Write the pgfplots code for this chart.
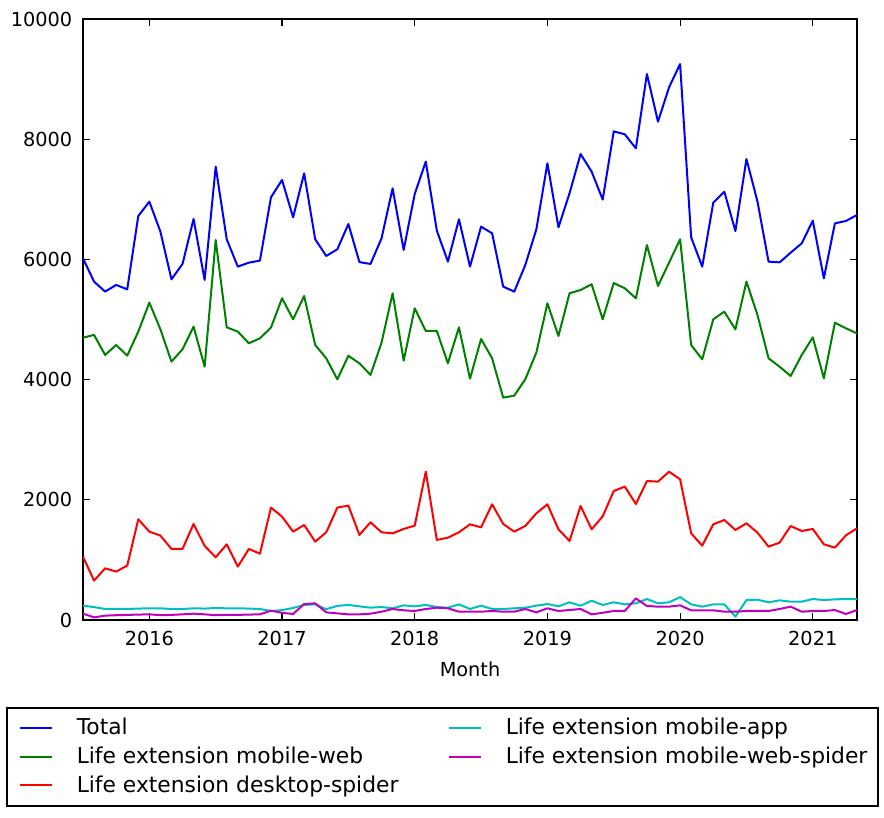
\documentclass[border=0pt]{standalone}
\usepackage{fontspec}
\setmainfont{DejaVu Sans}
\usepackage{pgfplots}
\usepackage{pgfplotstable}
\pgfplotsset{compat=1.18}
\definecolor{mblue}{rgb}{0,0,1}
\definecolor{mgreen}{rgb}{0,0.5,0}
\definecolor{mred}{rgb}{1,0,0}
\definecolor{mcyan}{rgb}{0,0.75,0.75}
\definecolor{mmag}{rgb}{0.75,0,0.75}
\newcommand{\myfont}{\fontsize{9.65pt}{11.6pt}\selectfont}
\newcommand{\legfont}{\fontsize{10.9pt}{13pt}\selectfont}
\pgfplotstableread{
x T W D A S
2015.5000 6018 4698 1054 238 105
2015.5833 5630 4743 655 215 44
2015.6667 5464 4410 860 183 72
2015.7500 5575 4576 805 183 80
2015.8333 5502 4399 905 183 85
2015.9167 6722 4798 1675 190 90
2016.0000 6961 5281 1470 194 94
2016.0833 6462 4837 1404 194 80
2016.1667 5669 4299 1182 183 85
2016.2500 5924 4504 1182 183 94
2016.3333 6673 4881 1598 194 105
2016.4167 5658 4216 1232 190 94
2016.5000 7543 6323 1043 200 80
2016.5833 6334 4870 1259 194 85
2016.6667 5880 4798 888 194 85
2016.7500 5946 4604 1182 190 90
2016.8333 5979 4687 1104 183 94
2016.9167 7033 4865 1870 150 155
2017.0000 7322 5353 1720 165 120
2017.0833 6700 5003 1470 200 100
2017.1667 7432 5391 1581 250 266
2017.2500 6334 4576 1304 260 277
2017.3333 6057 4354 1459 180 127
2017.4167 6168 4005 1870 235 110
2017.5000 6589 4396 1903 250 94
2017.5833 5955 4271 1415 227 94
2017.6667 5924 4077 1626 205 105
2017.7500 6351 4615 1459 216 138
2017.8333 7183 5436 1442 194 183
2017.9167 6157 4316 1515 244 161
2018.0000 7088 5186 1570 227 150
2018.0833 7627 4809 2468 250 183
2018.1667 6478 4809 1332 216 205
2018.2500 5963 4271 1370 205 194
2018.3333 6667 4870 1459 260 138
2018.4167 5880 4016 1592 183 138
2018.5000 6545 4676 1542 238 138
2018.5833 6434 4354 1925 183 150
2018.6667 5547 3700 1598 183 138
2018.7500 5464 3733 1470 194 138
2018.8333 5907 4005 1565 205 183
2018.9167 6501 4449 1775 238 127
2019.0000 7599 5269 1925 266 194
2019.0833 6534 4726 1509 227 150
2019.1667 7100 5436 1315 294 166
2019.2500 7754 5491 1897 238 183
2019.3333 7460 5586 1509 321 94
2019.4167 6995 5003 1725 250 120
2019.5000 8130 5607 2147 294 150
2019.5833 8081 5519 2219 260 150
2019.6667 7848 5352 1930 277 360
2019.7500 9085 6240 2313 349 233
2019.8333 8292 5557 2302 277 222
2019.9167 8863 5946 2468 294 222
2020.0000 9251 6334 2341 382 244
2020.0833 6367 4576 1442 260 161
2020.1667 5879 4337 1237 222 161
2020.2500 6944 5003 1592 260 161
2020.3333 7127 5130 1664 260 138
2020.4167 6472 4836 1498 55 138
2020.5000 7670 5630 1609 332 150
2020.5833 6961 5075 1453 338 150
2020.6667 5962 4354 1221 294 150
2020.7500 5951 4215 1287 327 183
2020.8333 6112 4060 1564 305 222
2020.9167 6267 4409 1481 305 138
2021.0000 6644 4703 1515 349 150
2021.0833 5685 4021 1259 332 150
2021.1667 6600 4947 1204 343 166
2021.2500 6639 4853 1409 349 100
2021.3333 6739 4770 1526 349 166
}\data
\begin{document}
\myfont
\begin{tikzpicture}[font=\myfont]
\useasboundingbox (-41.5pt,-99pt) rectangle (400.5pt,310pt);
\begin{axis}[
  scale only axis,
  width=387pt, height=300.5pt,
  xmin=2015.5, xmax=2021.3333,
  ymin=0, ymax=10000,
  xtick={2015,2016,...,2022},
  minor x tick num=3,
  ytick={0,2000,4000,6000,8000,10000},
  /pgf/number format/1000 sep={},
  /pgf/number format/assume math mode=true,
  xticklabel={\mbox{\myfont\pgfmathprintnumber[assume math mode=true,1000 sep={}]{\tick}}},
  yticklabel={\mbox{\myfont\pgfmathprintnumber[assume math mode=true,1000 sep={}]{\tick}}},
  scaled ticks=false,
  tick align=inside,
  tick pos=both,
  major tick length=3.5pt,
  minor tick length=2pt,
  every tick/.style={black, line width=0.6pt},
  axis line style={black, line width=0.8pt},
  tick label style={font=\myfont},
  label style={font=\myfont},
  xticklabel shift=2.3pt,
  yticklabel shift=2pt,
  xlabel={Month},
  xlabel style={yshift=-1.2pt},
  legend columns=2,
  legend cell align=left,
  legend image code/.code={\draw[#1] (0pt,0pt) -- (16pt,0pt);},
  legend style={
    at={(-0.0995,-0.1448)}, anchor=north west,
    font=\legfont,
    draw=black, line width=0.8pt,
    inner xsep=6pt, inner ysep=5.3pt,
    column sep=0pt, row sep=4.6pt,
    nodes={inner sep=0pt},
  },
  every axis plot/.append style={line width=1pt, line join=round},
]
\addplot[mblue, mark=none] table[x=x, y=T] {\data};
\addlegendentry{\hspace*{12pt}\makebox[185.5pt][l]{Total}}
\addplot[mcyan, mark=none] table[x=x, y=A] {\data};
\addlegendentry{\hspace*{12pt}\makebox[180pt][l]{Life extension mobile-app}}
\addplot[mgreen, mark=none] table[x=x, y=W] {\data};
\addlegendentry{\hspace*{12pt}\makebox[185.5pt][l]{Life extension mobile-web}}
\addplot[mmag, mark=none] table[x=x, y=S] {\data};
\addlegendentry{\hspace*{12pt}\makebox[180pt][l]{Life extension mobile-web-spider}}
\addplot[mred, mark=none] table[x=x, y=D] {\data};
\addlegendentry{\hspace*{12pt}\makebox[185.5pt][l]{Life extension desktop-spider}}
\end{axis}
\end{tikzpicture}
\end{document}
